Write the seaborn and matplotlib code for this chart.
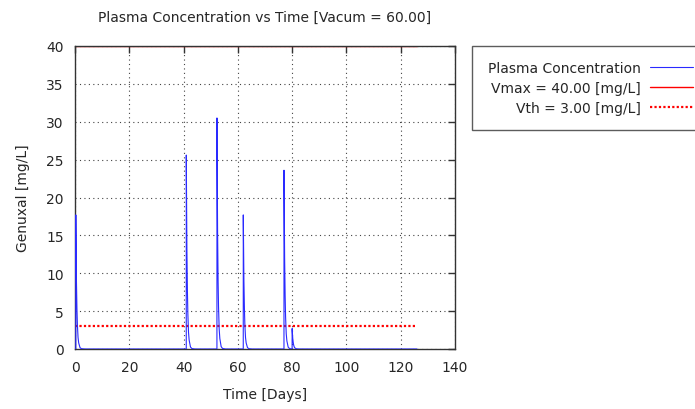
import numpy as np
import pandas as pd
import matplotlib
matplotlib.use("Agg")
import matplotlib.pyplot as plt
import seaborn as sns

# Dosing events: day of each dose and the plasma level right after it
dose_days = [0.3, 41.0, 52.3, 62.0, 77.0, 80.0]
peak_levels = [17.7, 25.6, 30.5, 17.7, 23.6, 2.7]

# Fraction of the peak remaining after each dose (days after dose -> fraction)
decay_days = [0.0, 0.1, 0.2, 0.3, 0.5, 0.75, 1.0, 1.5, 2.0, 3.0]
decay_fraction = [1.0, 0.74, 0.55, 0.41, 0.22, 0.10, 0.05, 0.011, 0.0025, 0.0]

t_end = 126.0
vmax = 40.0
vth = 3.0

x_ticks = [0, 20, 40, 60, 80, 100, 120, 140]
y_ticks = [0, 5, 10, 15, 20, 25, 30, 35, 40]

# Concentration curve: superposition of the single-dose profiles
time = np.arange(0.0, t_end + 0.005, 0.01)
conc = np.zeros_like(time)
for d, p in zip(dose_days, peak_levels):
    conc += p * np.interp(time - d, decay_days, decay_fraction, left=0.0, right=0.0)

df = pd.DataFrame({"time": time, "conc": conc})
limits = pd.DataFrame({"time": [0.0, t_end], "vmax": [vmax, vmax], "vth": [vth, vth]})

sns.set_style("white")
plt.rcParams["font.family"] = ["DejaVu Sans"]
fs = 10

fig = plt.figure(figsize=(6.95, 4.10), dpi=100)
ax = fig.add_axes([75 / 695, 60 / 410, 380 / 695, 303 / 410])

sns.lineplot(data=df, x="time", y="conc", ax=ax, color="#2a2aff", lw=0.8,
             label="Plasma Concentration", zorder=5)
sns.lineplot(data=limits, x="time", y="vmax", ax=ax, color="red", lw=1.0,
             label="Vmax = 40.00 [mg/L]", zorder=1)
sns.lineplot(data=limits, x="time", y="vth", ax=ax, color="red", lw=1.6,
             linestyle=(0, (1, 1)), label="Vth = 3.00 [mg/L]", zorder=2)

ax.set_xlim(0, 140)
ax.set_ylim(0, 40)
ax.set_xticks(x_ticks)
ax.set_yticks(y_ticks)
ax.grid(True, color="#444444", linestyle=(0, (1, 3)), lw=0.8)
ax.tick_params(direction="in", length=5, width=1, color="#333333",
               top=True, right=True, labelsize=fs, pad=8)
for sp in ax.spines.values():
    sp.set_color("#333333")
    sp.set_linewidth(1.0)
    sp.set_zorder(4)

ax.set_title("Plasma Concentration vs Time [Vacum = 60.00]", fontsize=fs, pad=18)
ax.set_xlabel("Time [Days]", fontsize=fs, labelpad=9)
ax.set_ylabel("Genuxal [mg/L]", fontsize=fs, labelpad=12)

leg = ax.legend(loc="upper right", bbox_to_anchor=(708 / 695, 363 / 410),
                bbox_transform=fig.transFigure, markerfirst=False,
                frameon=True, fancybox=False, fontsize=fs, handlelength=3.1,
                borderpad=1.1, labelspacing=0.42, handletextpad=0.65,
                borderaxespad=0)
leg.get_frame().set_edgecolor("#333333")
leg.get_frame().set_linewidth(1.0)

fig.savefig("out.png", dpi=100)
